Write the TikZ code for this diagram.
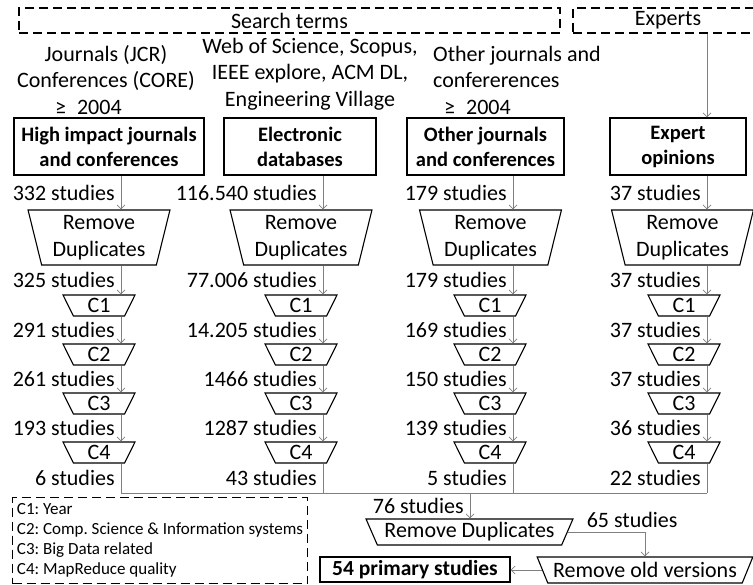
\documentclass[tikz,border=0pt]{standalone}
\usepackage{fontspec}
\setmainfont{Carlito}
\usepackage{tikz}
\usetikzlibrary{shapes.geometric,arrows.meta}
\frenchspacing

\begin{document}
\begin{tikzpicture}[x=1pt,y=-1pt,
  font=\fontsize{22}{26.5}\selectfont,
  src/.style={draw, line width=1.4pt, align=center, inner sep=0pt,
    font=\fontsize{20.5}{25}\selectfont\bfseries, minimum height=57pt},
  trap/.style={draw, line width=1.1pt, trapezium, trapezium stretches=true,
    inner sep=0pt, align=center},
  rmdup/.style={trap, trapezium left angle=104, trapezium right angle=104,
    minimum width=142pt, minimum height=55pt},
  crit/.style={trap, trapezium left angle=108, trapezium right angle=108,
    minimum width=72pt, minimum height=21pt},
  group/.style={draw, line width=1.1pt, dash pattern=on 9pt off 5pt, inner sep=0pt},
  flow/.style={draw=gray, line width=0.7pt, -{Straight Barb[length=4pt,width=8pt]}},
  flat/.style={draw=gray, line width=0.7pt},
  count/.style={left, inner sep=0pt, xshift=-6pt},
  note/.style={inner sep=0pt}]
\useasboundingbox (0,0) rectangle (753,585);

\coordinate (l1) at (121,0);
\coordinate (l2) at (323,0);
\coordinate (l3) at (513,0);
\coordinate (l4) at (707,0);

\node[group, minimum width=541pt, minimum height=25pt] (search) at (289.5,20.5) {Search terms};
\node[group, minimum width=190pt, minimum height=25pt] (experts) at (668,20.5) {Experts};

\node[note, align=center] (jcr) at (106,80) {Journals (JCR)\\Conferences (CORE)\\≥\enspace 2004\hspace*{1.6em}};
\node[note, align=center] (wos) at (310,74) {Web of Science, Scopus,\\IEEE explore, ACM DL,\\Engineering Village};
\node[note, align=left, anchor=west] (ojt) at (433,80) {Other journals and\\confererences\\\hspace*{0.5em}≥\enspace 2004};

\node[src, minimum width=190pt] (hi) at (109,146.5) {High impact journals\\and conferences};
\node[src, minimum width=152pt] (el) at (300,146.5) {Electronic\\databases};
\node[src, minimum width=157pt] (ot) at (485.5,146.5) {Other journals\\and conferences};
\node[src, minimum width=136pt] (ex) at (678,146.5) {Expert\\opinions};

\node[rmdup] (hird) at (99,237.5) {Remove\\Duplicates};
\node[rmdup] (elrd) at (301,237.5) {Remove\\Duplicates};
\node[rmdup] (otrd) at (490.5,237.5) {Remove\\Duplicates};
\node[rmdup] (exrd) at (682.5,237.5) {Remove\\Duplicates};

\node[crit] (hi1) at (99,305.5) {C1};
\node[crit] (hi2) at (99,354.5) {C2};
\node[crit] (hi3) at (99,403.5) {C3};
\node[crit] (hi4) at (99,452.5) {C4};
\node[crit] (el1) at (301,305.5) {C1};
\node[crit] (el2) at (301,354.5) {C2};
\node[crit] (el3) at (301,403.5) {C3};
\node[crit] (el4) at (301,452.5) {C4};
\node[crit] (ot1) at (490,305.5) {C1};
\node[crit] (ot2) at (490,354.5) {C2};
\node[crit] (ot3) at (490,403.5) {C3};
\node[crit] (ot4) at (490,452.5) {C4};
\node[crit] (ex1) at (684,305.5) {C1};
\node[crit] (ex2) at (684,354.5) {C2};
\node[crit] (ex3) at (684,403.5) {C3};
\node[crit] (ex4) at (684,452.5) {C4};

\coordinate (merge) at (470,493);
\node[trap, trapezium left angle=119, trapezium right angle=119,
  minimum width=207pt, minimum height=26pt] (alrd) at (469.5,532) {Remove Duplicates};
\node[trap, trapezium left angle=123, trapezium right angle=123,
  minimum width=216pt, minimum height=26pt] (old) at (645,570) {Remove old versions};
\node[src, minimum width=190pt, minimum height=25pt, font=\fontsize{21.5}{25}\selectfont\bfseries] (final) at (415,569.5) {54 primary studies};

\node[group, anchor=north west, align=left, minimum width=295pt,
  minimum height=86pt, font=\fontsize{17}{20}\selectfont] (key) at (12,497)
  {C1: Year\\C2: Comp. Science \& Information systems\\C3: Big Data related\\C4: MapReduce quality};

\draw[flow] (experts.south -| l4) -- (ex.north -| l4);

\draw[flow] (hi.south -| l1) -- node[count] {332 studies} (hird.north -| l1);
\draw[flow] (hird.south -| l1) -- node[count] {325 studies} (hi1.north -| l1);
\draw[flow] (hi1.south -| l1) -- node[count] {291 studies} (hi2.north -| l1);
\draw[flow] (hi2.south -| l1) -- node[count] {261 studies} (hi3.north -| l1);
\draw[flow] (hi3.south -| l1) -- node[count] {193 studies} (hi4.north -| l1);
\draw[flat] (hi4.south -| l1) -- node[count] {6 studies} (l1 |- merge);

\draw[flow] (el.south -| l2) -- node[count] {116.540 studies} (elrd.north -| l2);
\draw[flow] (elrd.south -| l2) -- node[count] {77.006 studies} (el1.north -| l2);
\draw[flow] (el1.south -| l2) -- node[count] {14.205 studies} (el2.north -| l2);
\draw[flow] (el2.south -| l2) -- node[count] {1466 studies} (el3.north -| l2);
\draw[flow] (el3.south -| l2) -- node[count] {1287 studies} (el4.north -| l2);
\draw[flat] (el4.south -| l2) -- node[count] {43 studies} (l2 |- merge);

\draw[flow] (ot.south -| l3) -- node[count] {179 studies} (otrd.north -| l3);
\draw[flow] (otrd.south -| l3) -- node[count] {179 studies} (ot1.north -| l3);
\draw[flow] (ot1.south -| l3) -- node[count] {169 studies} (ot2.north -| l3);
\draw[flow] (ot2.south -| l3) -- node[count] {150 studies} (ot3.north -| l3);
\draw[flow] (ot3.south -| l3) -- node[count] {139 studies} (ot4.north -| l3);
\draw[flat] (ot4.south -| l3) -- node[count] {5 studies} (l3 |- merge);

\draw[flow] (ex.south -| l4) -- node[count] {37 studies} (exrd.north -| l4);
\draw[flow] (exrd.south -| l4) -- node[count] {37 studies} (ex1.north -| l4);
\draw[flow] (ex1.south -| l4) -- node[count] {37 studies} (ex2.north -| l4);
\draw[flow] (ex2.south -| l4) -- node[count] {37 studies} (ex3.north -| l4);
\draw[flow] (ex3.south -| l4) -- node[count] {36 studies} (ex4.north -| l4);
\draw[flat] (ex4.south -| l4) -- node[count] {22 studies} (l4 |- merge);

\draw[flat] (l1 |- merge) -- (l4 |- merge);
\draw[flow] (merge) -- node[count] {76 studies} (alrd.north -| merge);
\draw[flow] (alrd.east) -| node[pos=0.12, anchor=south west, inner sep=0pt, yshift=4pt] {65 studies} (old.north);
\draw[flow] (old.west) -- (old.west -| final.east);
\end{tikzpicture}
\end{document}
